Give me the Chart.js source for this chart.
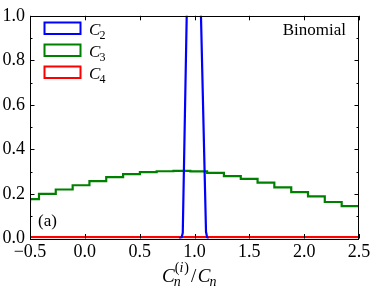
<!DOCTYPE html>
<html>
<head>
<meta charset="utf-8">
<script src="https://cdn.jsdelivr.net/npm/chart.js@4"></script>
<style>
  body { margin: 0; background: #fff; }
  #wrap { width: 374px; height: 294px; }
</style>
</head>
<body>
<div id="wrap"><canvas id="chart" width="374" height="294"></canvas></div>
<script>
// data
let seriesNames = ['C', 'C', 'C'];
let seriesSubs = ['2', '3', '4'];
let seriesColors = ['#0000ff', '#008000', '#ff0000'];

let c2X = [0.86, 0.883, 0.893, 0.96, 1.0, 1.03, 1.105, 1.115, 1.13];
let c2Y = [0.0, 0.006, 0.025, 1.84, 2.5, 1.61, 0.03, 0.005, 0.0];

let c3X = [-0.5, -0.418, -0.265, -0.111, 0.042, 0.195, 0.349, 0.502, 0.655, 0.808, 0.962,
           1.115, 1.268, 1.422, 1.575, 1.728, 1.882, 2.035, 2.188, 2.342, 2.495, 2.5];
let c3Y = [0.158, 0.177, 0.200, 0.220, 0.239, 0.258, 0.276, 0.289, 0.298, 0.302, 0.304,
           0.301, 0.295, 0.280, 0.268, 0.251, 0.230, 0.208, 0.189, 0.164, 0.145, 0.145];

let c4X = [-0.5, 2.5];
let c4Y = [0.006, 0.006];

let xMin = -0.5, xMax = 2.5, xStep = 0.5;
let yMin = 0, yMax = 1.0, yStep = 0.2;

const FONT = "'Liberation Serif', 'DejaVu Serif', serif";

function toPoints(xs, ys) {
    let pts = [];
    for (let i = 0; i < xs.length; i++) pts.push({x: xs[i], y: ys[i]});
    return pts;
}

function fmt(v) {
    return v.toFixed(1).replace('-', '\u2212');
}

// italic letter with a subscript (and optional (i) superscript)
function drawSym(ctx, base, sub, sup, x, y, size, small) {
    ctx.font = 'italic ' + size + 'px ' + FONT;
    ctx.fillText(base, x, y);
    let w = ctx.measureText(base).width;
    let sx = x + w - size * 0.05;
    ctx.font = (/\d/.test(sub) ? '' : 'italic ') + small + 'px ' + FONT;
    ctx.fillText(sub, sx, y + size * 0.26);
    let ws = ctx.measureText(sub).width;
    if (sup) {
        let sy = y - size * 0.52;
        let px = sx + 1;
        ctx.font = small + 'px ' + FONT;
        ctx.fillText('(', px, sy);
        let w1 = ctx.measureText('(').width;
        ctx.font = 'italic ' + small + 'px ' + FONT;
        ctx.fillText('i', px + w1, sy);
        let w2 = ctx.measureText('i').width + 1;
        ctx.font = small + 'px ' + FONT;
        ctx.fillText(')', px + w1 + w2, sy);
        ws = Math.max(ws, 1 + w1 + w2 + ctx.measureText(')').width);
    }
    return sx - x + ws;
}

const decor = {
    id: 'decor',
    afterDraw(chart) {
        const {ctx, chartArea: a, scales: {x, y}} = chart;
        ctx.save();
        ctx.strokeStyle = '#000';
        ctx.lineWidth = 1;
        ctx.strokeRect(Math.round(a.left) + 0.5, Math.round(a.top) + 0.5,
                       Math.round(a.right - a.left) - 1, Math.round(a.bottom - a.top));
        ctx.beginPath();
        x.ticks.forEach(t => {
            let px = Math.round(x.getPixelForValue(t.value)) + 0.5;
            ctx.moveTo(px, a.bottom); ctx.lineTo(px, a.bottom - 4.5);
            ctx.moveTo(px, a.top); ctx.lineTo(px, a.top + 4.5);
        });
        y.ticks.forEach(t => {
            let py = Math.round(y.getPixelForValue(t.value)) + 0.5;
            ctx.moveTo(a.left, py); ctx.lineTo(a.left + 4.5, py);
            ctx.moveTo(a.right, py); ctx.lineTo(a.right - 4.5, py);
            let m = t.value + yStep / 2;
            if (m < yMax) {
                let pm = Math.round(y.getPixelForValue(m)) + 0.5;
                ctx.moveTo(a.left, pm); ctx.lineTo(a.left + 2.5, pm);
                ctx.moveTo(a.right, pm); ctx.lineTo(a.right - 2.5, pm);
            }
        });
        ctx.stroke();

        // legend
        ctx.fillStyle = '#000';
        ctx.textBaseline = 'alphabetic';
        ctx.textAlign = 'left';
        chart.data.datasets.forEach((ds, i) => {
            let top = 22.5 + i * 22;
            ctx.strokeStyle = ds.borderColor;
            ctx.lineWidth = 2;
            ctx.strokeRect(44.5, top, 36, 11.5);
            ctx.fillStyle = '#000';
            drawSym(ctx, seriesNames[i], seriesSubs[i], false, 89, top + 12, 17, 12);
        });

        // texts
        ctx.font = '17px ' + FONT;
        ctx.textAlign = 'right';
        ctx.fillText('Binomial', 346, 35);
        ctx.textAlign = 'left';
        ctx.fillText('(a)', 38, 226);

        // x axis title  C_n^(i) / C_n
        let size = 19, small = 14;
        let base = 281.5;
        let cx = 162;
        let w = drawSym(ctx, 'C', 'n', true, cx, base, size, small);
        ctx.font = size + 'px ' + FONT;
        let sl = cx + w + 2;
        ctx.fillText('/', sl, base);
        let slw = ctx.measureText('/').width;
        drawSym(ctx, 'C', 'n', false, sl + slw + 1.5, base, size, small);
        ctx.restore();
    }
};

function spawnChart() {
    let ctx = document.getElementById('chart');
    new Chart(ctx, {
        type: 'line',
        data: {
            datasets: [{
                label: 'C2',
                data: toPoints(c2X, c2Y),
                borderColor: seriesColors[0],
                borderWidth: 2.2,
                pointRadius: 0,
                tension: 0
            },
            {
                label: 'C3',
                data: toPoints(c3X, c3Y),
                borderColor: seriesColors[1],
                borderWidth: 2.2,
                pointRadius: 0,
                stepped: 'after'
            },
            {
                label: 'C4',
                data: toPoints(c4X, c4Y),
                borderColor: seriesColors[2],
                borderWidth: 2.2,
                pointRadius: 0
            }]
        },
        options: {
            responsive: false,
            animation: false,
            layout: { padding: { left: 0, right: 15, top: 11, bottom: 0 } },
            plugins: {
                legend: { display: false },
                tooltip: { enabled: false }
            },
            scales: {
                x: {
                    type: 'linear',
                    min: xMin, max: xMax,
                    grid: { display: false, drawTicks: false },
                    border: { display: false },
                    ticks: {
                        stepSize: xStep,
                        padding: 3,
                        color: '#000',
                        font: { family: FONT, size: 18 },
                        maxRotation: 0,
                        callback: v => fmt(v)
                    },
                    afterFit: s => { s.height = 55.5; }
                },
                y: {
                    min: yMin, max: yMax,
                    grid: { display: false, drawTicks: false },
                    border: { display: false },
                    ticks: {
                        stepSize: yStep,
                        padding: 5,
                        color: '#000',
                        font: { family: FONT, size: 18 },
                        callback: v => fmt(v)
                    },
                    afterFit: s => { s.width = 30; }
                }
            }
        },
        plugins: [decor]
    });
}

Promise.all([
    document.fonts.load("17px 'Liberation Serif'"),
    document.fonts.load("italic 17px 'Liberation Serif'")
]).then(spawnChart, spawnChart);
</script>
</body>
</html>
